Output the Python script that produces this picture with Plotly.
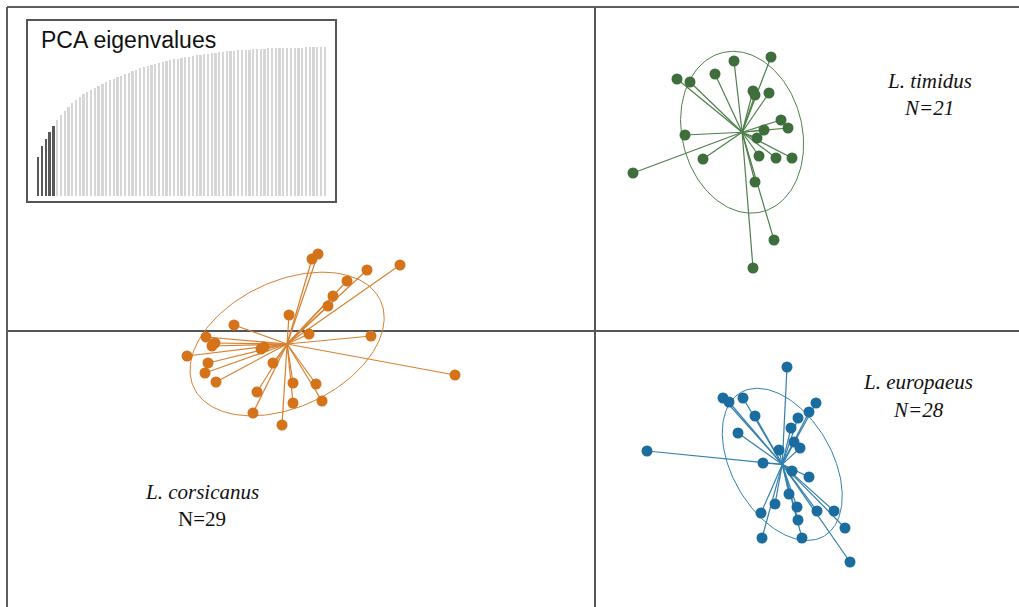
import numpy as np
import plotly.graph_objects as go

# PCA scores (PC1, PC2) for each hare species
timidus_pc1 = [1.39, 1.76, 0.82, 0.95, 1.20, 1.58, 1.60, 1.74, 1.86, 1.93, 1.69,
               1.62, 0.90, 1.08, 1.64, 1.81, 1.97, 0.38, 1.60, 1.79, 1.58]
timidus_pc2 = [2.70, 2.74, 2.52, 2.49, 2.57, 2.40, 2.36, 2.38, 2.11, 2.03, 2.01,
               1.93, 1.96, 1.72, 1.75, 1.73, 1.73, 1.58, 1.49, 0.91, 0.63]

corsicanus_pc1 = [-2.77, -2.83, -1.95, -2.28, -2.48, -2.62, -2.67, -3.06, -3.61, -2.86,
                  -2.24, -3.89, -3.80, -3.83, -3.34, -3.31, -4.08, -3.87, -3.22, -3.90,
                  -1.40, -3.79, -3.02, -2.79, -3.38, -2.73, -3.02, -3.42, -3.13]
corsicanus_pc2 = [0.77, 0.72, 0.66, 0.61, 0.50, 0.35, 0.25, 0.16, 0.06, -0.03,
                  -0.05, -0.06, -0.12, -0.15, -0.18, -0.16, -0.25, -0.32, -0.32, -0.42,
                  -0.44, -0.51, -0.52, -0.53, -0.61, -0.70, -0.72, -0.82, -0.94]

europaeus_pc1 = [1.92, 1.28, 1.34, 1.48, 2.21, 2.14, 1.60, 2.03, 1.96, 1.43, 0.52,
                 1.84, 1.99, 2.05, 1.68, 1.97, 2.14, 1.94, 1.80, 2.02, 1.66, 2.22,
                 2.39, 2.03, 2.50, 1.67, 2.07, 2.55]
europaeus_pc2 = [-0.36, -0.67, -0.71, -0.67, -0.72, -0.81, -0.85, -0.87, -0.97, -1.02, -1.20,
                 -1.19, -1.11, -1.17, -1.32, -1.40, -1.46, -1.63, -1.73, -1.76, -1.82, -1.80,
                 -1.80, -1.89, -1.97, -2.07, -2.07, -2.31]

# Inertia ellipse per group: semi-major, semi-minor, rotation (degrees)
ellipse_a = {"timidus": 0.82, "corsicanus": 1.03, "europaeus": 0.83}
ellipse_b = {"timidus": 0.60, "corsicanus": 0.63, "europaeus": 0.50}
ellipse_angle = {"timidus": 104, "corsicanus": 25, "europaeus": 120}

# Eigenvalue bar heights for the inset (first 5 retained axes in dark)
eigenvalues = [39.3, 50, 57, 64, 70, 76, 81, 85.5, 89.5, 93, 96, 99, 102, 104.5,
               106.5, 108.5, 110.5, 112.5, 114.5, 116, 117.5, 119, 120.5, 122, 123.5,
               125, 126.5, 128, 129, 130, 131.5, 132.5, 133.5, 134.5, 135.5, 136, 137,
               137.5, 138.5, 139, 139.5, 140.5, 141, 141.5, 142, 142.5, 143, 143.5, 144,
               144.5, 144.8, 145, 145.5, 145.8, 146, 146.2, 146.5, 146.7, 147, 147.2,
               147.4, 147.6, 147.8, 147.9, 148, 148, 148.1, 148.2, 148.3, 148.4, 148.5,
               148.7, 148.8, 149, 149, 149, 149]
n_retained = 5

groups = [
    ("timidus", timidus_pc1, timidus_pc2, "#3e6e3c", "#4f7f4c"),
    ("corsicanus", corsicanus_pc1, corsicanus_pc2, "#d4731a", "#d98030"),
    ("europaeus", europaeus_pc1, europaeus_pc2, "#1c6d9f", "#3380ad"),
]

W, H = 1019, 607
X_RANGE = [-5.95, 4.24]
Y_RANGE = [-2.76, 3.31]

fig = go.Figure()

for name, px, py, dot_col, line_col in groups:
    px = np.asarray(px)
    py = np.asarray(py)
    cx, cy = px.mean(), py.mean()

    # ellipse outline
    t = np.linspace(0, 2 * np.pi, 200)
    a, b = ellipse_a[name], ellipse_b[name]
    th = np.deg2rad(ellipse_angle[name])
    ex = cx + a * np.cos(t) * np.cos(th) - b * np.sin(t) * np.sin(th)
    ey = cy + a * np.cos(t) * np.sin(th) + b * np.sin(t) * np.cos(th)
    fig.add_trace(go.Scatter(x=ex, y=ey, mode="lines",
                             line=dict(color=line_col, width=1),
                             hoverinfo="skip", showlegend=False))

    # star segments from the group centroid
    sx, sy = [], []
    for xi, yi in zip(px, py):
        sx += [cx, xi, None]
        sy += [cy, yi, None]
    fig.add_trace(go.Scatter(x=sx, y=sy, mode="lines",
                             line=dict(color=line_col, width=1.2),
                             hoverinfo="skip", showlegend=False))

    fig.add_trace(go.Scatter(x=px, y=py, mode="markers",
                             marker=dict(color=dot_col, size=11, line=dict(width=0)),
                             name=name, showlegend=False))

# inset bar chart of eigenvalues
idx = list(range(1, len(eigenvalues) + 1))
bar_cols = ["#585858" if i <= n_retained else "#d6d6d6" for i in idx]
fig.add_trace(go.Bar(x=idx, y=eigenvalues, marker=dict(color=bar_cols, line=dict(width=0)),
                     width=0.6, xaxis="x2", yaxis="y2", showlegend=False,
                     hoverinfo="skip"))

frame_col = "#5e5e5e"
shapes = [
    # outer frame (top and left edges)
    dict(type="line", xref="paper", yref="y", x0=7 / W, x1=1, y0=3.24, y1=3.24,
         line=dict(color=frame_col, width=2)),
    dict(type="line", xref="x", yref="paper", x0=-5.88, x1=-5.88, y0=0, y1=1 - 7 / H,
         line=dict(color=frame_col, width=2)),
    # PC axes through the origin
    dict(type="line", xref="paper", yref="y", x0=7 / W, x1=1, y0=0, y1=0,
         line=dict(color="#555555", width=2), layer="below"),
    dict(type="line", xref="x", yref="paper", x0=0, x1=0, y0=0, y1=1 - 7 / H,
         line=dict(color="#555555", width=2), layer="below"),
    # inset box
    dict(type="rect", xref="paper", yref="paper",
         x0=27 / W, x1=336 / W, y0=1 - 202 / H, y1=1 - 20 / H,
         line=dict(color="#555555", width=2), fillcolor="rgba(0,0,0,0)"),
]

serif = "Liberation Serif, Times New Roman, serif"
annotations = [
    dict(text="PCA eigenvalues", xref="paper", yref="paper", x=39 / W, y=1 - 40 / H,
         xanchor="left", yanchor="middle", showarrow=False,
         font=dict(family="Liberation Sans, Arial, sans-serif", size=23, color="#111111")),
    dict(text="<i>L. timidus</i>", xref="paper", yref="paper", x=929 / W, y=1 - 81 / H,
         xanchor="center", yanchor="middle", showarrow=False,
         font=dict(family=serif, size=21, color="#111111")),
    dict(text="<i>N=21</i>", xref="paper", yref="paper", x=929 / W, y=1 - 108 / H,
         xanchor="center", yanchor="middle", showarrow=False,
         font=dict(family=serif, size=21, color="#111111")),
    dict(text="<i>L. europaeus</i>", xref="paper", yref="paper", x=918 / W, y=1 - 382 / H,
         xanchor="center", yanchor="middle", showarrow=False,
         font=dict(family=serif, size=21, color="#111111")),
    dict(text="<i>N=28</i>", xref="paper", yref="paper", x=918 / W, y=1 - 410 / H,
         xanchor="center", yanchor="middle", showarrow=False,
         font=dict(family=serif, size=21, color="#111111")),
    dict(text="<i>L. corsicanus</i>", xref="paper", yref="paper", x=202 / W, y=1 - 492 / H,
         xanchor="center", yanchor="middle", showarrow=False,
         font=dict(family=serif, size=21, color="#111111")),
    dict(text="N=29", xref="paper", yref="paper", x=202 / W, y=1 - 519 / H,
         xanchor="center", yanchor="middle", showarrow=False,
         font=dict(family=serif, size=21, color="#111111")),
]

hidden = dict(showgrid=False, zeroline=False, showticklabels=False, ticks="",
              showline=False, fixedrange=True)

fig.update_layout(
    width=W, height=H,
    margin=dict(l=0, r=0, t=0, b=0),
    paper_bgcolor="white", plot_bgcolor="rgba(0,0,0,0)",
    xaxis=dict(range=X_RANGE, domain=[0, 1], **hidden),
    yaxis=dict(range=Y_RANGE, domain=[0, 1], **hidden),
    xaxis2=dict(range=[-2.0, 79.97], domain=[27 / W, 336 / W], anchor="y2", **hidden),
    yaxis2=dict(range=[-6, 176], domain=[1 - 202 / H, 1 - 20 / H], anchor="x2", **hidden),
    shapes=shapes,
    annotations=annotations,
    bargap=0,
)

fig.write_html("out.html")
